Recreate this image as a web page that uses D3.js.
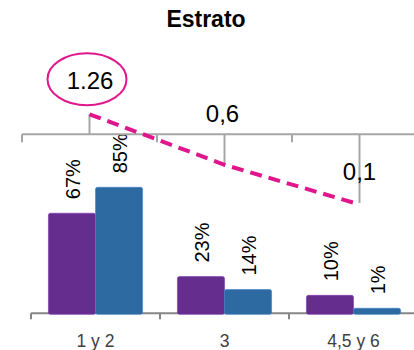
<!DOCTYPE html>
<html>
<head>
<meta charset="utf-8">
<script src="https://cdn.jsdelivr.net/npm/d3@7"></script>
<style>
  body { margin: 0; background: #fff; }
  svg { display: block; font-family: "Liberation Sans", Arial, sans-serif; }
</style>
</head>
<body>
<svg width="414" height="350"></svg>
<script>
// data
const categories = ['1 y 2', '3', '4,5 y 6'];
const series = ['a', 'b'];
const seriesA = [67, 23, 10];   // purple bars (%)
const seriesB = [85, 14, 1];    // blue bars (%)
const ratio = [1.26, 0.6, 0.1]; // dashed line
const ratioLabels = ['1.26', '0,6', '0,1'];

const colors = { a: '#652d8e', b: '#2e6aa2' };
const pink = '#e0178c';

const svg = d3.select('svg');

// title
svg.append('text')
    .attr('x', 206).attr('y', 27)
    .attr('text-anchor', 'middle')
    .attr('font-weight', 'bold')
    .attr('font-size', 23)
    .attr('fill', '#000')
    .text('Estrato');

// ---- bar part ----
const x = d3.scaleBand().domain(categories).range([31, 418]);
const x1 = d3.scaleBand().domain(series).range([0, x.bandwidth()]).paddingOuter(0.37);
const y = d3.scaleLinear().domain([-2.5, 100]).range([313.3, 165.7]);
const base = y(y.domain()[0]);

// bottom axis
const bottomAxis = svg.append('g');
bottomAxis.append('line')
    .attr('x1', x(categories[0])).attr('x2', 414)
    .attr('y1', base).attr('y2', base)
    .attr('stroke', '#868686').attr('stroke-width', 2);
bottomAxis.selectAll('.tick')
    .data(categories)
    .enter().append('line')
    .attr('x1', d => x(d)).attr('x2', d => x(d))
    .attr('y1', base).attr('y2', base + 6)
    .attr('stroke', '#868686').attr('stroke-width', 2);
bottomAxis.selectAll('.cat')
    .data(categories)
    .enter().append('text')
    .attr('x', d => x(d) + x.bandwidth() / 2)
    .attr('y', 347)
    .attr('text-anchor', 'middle')
    .attr('font-size', 17.5)
    .attr('fill', '#404040')
    .text(d => d);

const rows = categories.map((c, i) => ({ cat: c, a: seriesA[i], b: seriesB[i] }));

const groups = svg.selectAll('.grp')
    .data(rows)
    .enter().append('g')
    .attr('transform', d => `translate(${x(d.cat)},0)`);

groups.selectAll('rect')
    .data(d => series.map(s => ({ key: s, value: d[s] })))
    .enter().append('rect')
    .attr('x', d => x1(d.key))
    .attr('y', d => y(d.value))
    .attr('width', x1.bandwidth())
    .attr('height', d => base + 1 - y(d.value))
    .attr('rx', 2)
    .attr('fill', d => colors[d.key])
    .attr('stroke', d => d3.color(colors[d.key]).brighter(0.6))
    .attr('stroke-width', 0.6);

groups.selectAll('.pct')
    .data(d => series.map(s => ({ key: s, value: d[s] })))
    .enter().append('text')
    .attr('transform', d => `translate(${x1(d.key) + x1.bandwidth() / 2 + 8},${y(d.value) - 14}) rotate(-90)`)
    .attr('font-size', 20)
    .attr('fill', '#000')
    .text(d => d.value + '%');

// ---- line part ----
const x2 = d3.scaleBand().domain(categories).range([22, 427]);
const y2 = d3.scaleLinear().domain([0, 1.5]).range([210.65, 95.9]);
const axisY = y2(1);

const topAxis = svg.append('g');
topAxis.append('line')
    .attr('x1', x2(categories[0])).attr('x2', 414)
    .attr('y1', axisY).attr('y2', axisY)
    .attr('stroke', '#a6a6a6').attr('stroke-width', 2);
topAxis.selectAll('.tick')
    .data(categories)
    .enter().append('line')
    .attr('x1', d => x2(d)).attr('x2', d => x2(d))
    .attr('y1', axisY).attr('y2', axisY + 8)
    .attr('stroke', '#a6a6a6').attr('stroke-width', 2);
// drop lines from the axis to each point
topAxis.selectAll('.drop')
    .data(ratio)
    .enter().append('line')
    .attr('x1', (d, i) => x2(categories[i]) + x2.bandwidth() / 2)
    .attr('x2', (d, i) => x2(categories[i]) + x2.bandwidth() / 2)
    .attr('y1', axisY).attr('y2', d => y2(d))
    .attr('stroke', '#a6a6a6').attr('stroke-width', 2);

const line = d3.line()
    .x((d, i) => x2(categories[i]) + x2.bandwidth() / 2 - (i === ratio.length - 1 ? 5 : 0))
    .y(d => y2(d));

svg.append('path')
    .datum(ratio)
    .attr('d', line)
    .attr('fill', 'none')
    .attr('stroke', pink)
    .attr('stroke-width', 4)
    .attr('stroke-dasharray', '12,7');

// point labels (the middle one sits above the axis)
const labelLift = [25, 43, 23];
svg.selectAll('.val')
    .data(ratio)
    .enter().append('text')
    .attr('x', (d, i) => x2(categories[i]) + x2.bandwidth() / 2 + [0.5, -2, 0][i])
    .attr('y', (d, i) => y2(d) - labelLift[i])
    .attr('text-anchor', 'middle')
    .attr('font-size', 24)
    .attr('fill', '#000')
    .text((d, i) => ratioLabels[i]);

// ellipse highlight around the first value
svg.append('ellipse')
    .attr('cx', x2(categories[0]) + x2.bandwidth() / 2 - 2.5)
    .attr('cy', y2(ratio[0]) - 35)
    .attr('rx', 39.5).attr('ry', 26)
    .attr('fill', 'none')
    .attr('stroke', pink)
    .attr('stroke-width', 2);
</script>
</body>
</html>
